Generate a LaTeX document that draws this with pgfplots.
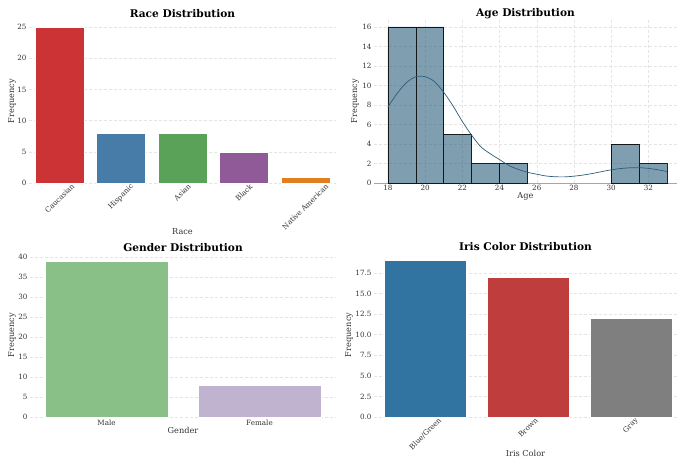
\documentclass[border=0pt]{standalone}
\usepackage{fontspec}
\setmainfont{DejaVu Serif}
\usepackage{graphicx}
\usepackage{pgfplots}
\pgfplotsset{compat=1.18}

\definecolor{cRed}{HTML}{CB3335}
\definecolor{cBlue}{HTML}{477CA8}
\definecolor{cGreen}{HTML}{59A257}
\definecolor{cPurple}{HTML}{905998}
\definecolor{cOrange}{HTML}{DF7F20}
\definecolor{gGreen}{HTML}{88C088}
\definecolor{gPurple}{HTML}{BFB3CF}
\definecolor{iBlue}{HTML}{3274A1}
\definecolor{iRed}{HTML}{C03D3E}
\definecolor{iGray}{HTML}{7F7F7F}
\definecolor{ageCol}{HTML}{2A5D7C}
\definecolor{tickCol}{HTML}{333333}

\newcommand{\rot}[1]{\rotatebox{45}{#1}}

\pgfplotsset{
  panel/.style={
    scale only axis,
    anchor=south west,
    axis line style={draw=none},
    major tick length=0pt,
    tick style={draw=none},
    grid style={densely dashed, gray!20, line width=0.4pt},
    ymajorgrids,
    ymin=0,
    tick label style={font=\fontsize{7.2}{8}\selectfont, text=tickCol},
    label style={font=\fontsize{8.2}{10}\selectfont, text=tickCol},
    every axis title shift=0pt,
    title style={font=\fontsize{10.6}{12}\bfseries\selectfont,
      at={(axis description cs:0.5,1)}, anchor=center, yshift=6pt},
    /pgf/number format/assume math mode=true,
    xticklabel style={yshift=1pt},
    yticklabel style={xshift=1pt},
  },
  catbar/.style={ybar, bar width=0.8, bar shift=0pt, draw=white, line width=0.4pt},
}

\begin{document}
\begin{tikzpicture}
\path[use as bounding box] (0,0) rectangle (677pt,459pt);

% Race
\begin{axis}[panel,
  at={(29pt,276pt)}, width=307pt, height=163.8pt,
  xmin=-0.5, xmax=4.5, ymax=26.25,
  xtick={0,1,2,3,4},
  xticklabels={\rot{Caucasian},\rot{Hispanic},\rot{Asian},\rot{Black},\rot{Native American}},
  xticklabel style={anchor=north, inner sep=1pt},
  ytick={0,5,10,15,20,25},
  title={Race Distribution},
  xlabel={Race}, ylabel={Frequency},
  xlabel style={at={(axis description cs:0.5,0)}, anchor=center, yshift=-49pt},
  ylabel style={at={(axis description cs:-0.0554,0.5)}, anchor=center},
]
\addplot[catbar, fill=cRed] coordinates {(0,25)};
\addplot[catbar, fill=cBlue] coordinates {(1,8)};
\addplot[catbar, fill=cGreen] coordinates {(2,8)};
\addplot[catbar, fill=cPurple] coordinates {(3,5)};
\addplot[catbar, fill=cOrange] coordinates {(4,1)};
\end{axis}

% Age
\begin{axis}[panel,
  at={(374pt,276pt)}, width=303pt, height=163.8pt,
  xmin=17.25, xmax=33.54, ymax=16.8,
  xmajorgrids,
  xtick={18,20,...,32},
  ytick={0,2,...,16},
  title={Age Distribution},
  xlabel={Age}, ylabel={Frequency},
  xlabel style={at={(axis description cs:0.5,0)}, anchor=center, yshift=-13pt},
  ylabel style={at={(axis description cs:-0.0627,0.5)}, anchor=center},
]
\draw[gray!70, line width=0.6pt] (axis cs:17.25,0) -- (axis cs:33.54,0);
\addplot[ybar, bar width=1.5, bar shift=0pt, fill=ageCol, fill opacity=0.6,
  draw=black, draw opacity=0.85, line width=0.6pt]
  coordinates {(18.75,16) (20.25,16) (21.75,5) (23.25,2) (24.75,2) (30.75,4) (32.25,2)};
\addplot[smooth, ageCol, line width=0.7pt, mark=none] coordinates {
  (18.0,7.8) (18.5,9.2) (19.0,10.3) (19.5,10.9) (20.0,10.9) (20.5,10.4)
  (21.0,9.3) (21.5,7.9) (22.0,6.3) (22.5,4.9) (23.0,3.7) (23.5,3.0)
  (24.0,2.4) (24.5,1.8) (25.0,1.4) (25.5,1.1) (26.0,0.9) (26.5,0.72)
  (27.0,0.64) (27.5,0.63) (28.0,0.7) (28.5,0.82) (29.0,0.98) (29.5,1.17)
  (30.0,1.35) (30.5,1.48) (31.0,1.56) (31.5,1.57) (32.0,1.5) (32.5,1.36)
  (33.0,1.18)};
\end{axis}

% Gender
\begin{axis}[panel,
  at={(30pt,42pt)}, width=306pt, height=163.8pt,
  xmin=-0.5, xmax=1.5, ymax=40.95,
  xtick={0,1}, xticklabels={Male,Female},
  ytick={0,5,...,40},
  title={Gender Distribution},
  xlabel={Gender}, ylabel={Frequency},
  xlabel style={at={(axis description cs:0.5,0)}, anchor=center, yshift=-13pt},
  ylabel style={at={(axis description cs:-0.0588,0.5)}, anchor=center},
]
\addplot[catbar, fill=gGreen] coordinates {(0,39)};
\addplot[catbar, fill=gPurple] coordinates {(1,8)};
\end{axis}

% Iris colour
\begin{axis}[panel,
  at={(374pt,42pt)}, width=303pt, height=164.2pt,
  xmin=-0.5, xmax=2.45, ymax=19.95,
  xtick={0,1,2}, xticklabels={\rot{Blue/Green},\rot{Brown},\rot{Gray}},
  xticklabel style={anchor=north, inner sep=1pt},
  ytick={0,2.5,...,17.5},
  yticklabel style={/pgf/number format/.cd, fixed, fixed zerofill, precision=1},
  title={Iris Color Distribution},
  xlabel={Iris Color}, ylabel={Frequency},
  xlabel style={at={(axis description cs:0.5,0)}, anchor=center, yshift=-36pt},
  ylabel style={at={(axis description cs:-0.0825,0.5)}, anchor=center},
]
\addplot[catbar, fill=iBlue] coordinates {(0,19)};
\addplot[catbar, fill=iRed] coordinates {(1,17)};
\addplot[catbar, fill=iGray] coordinates {(2,12)};
\end{axis}
\end{tikzpicture}
\end{document}
